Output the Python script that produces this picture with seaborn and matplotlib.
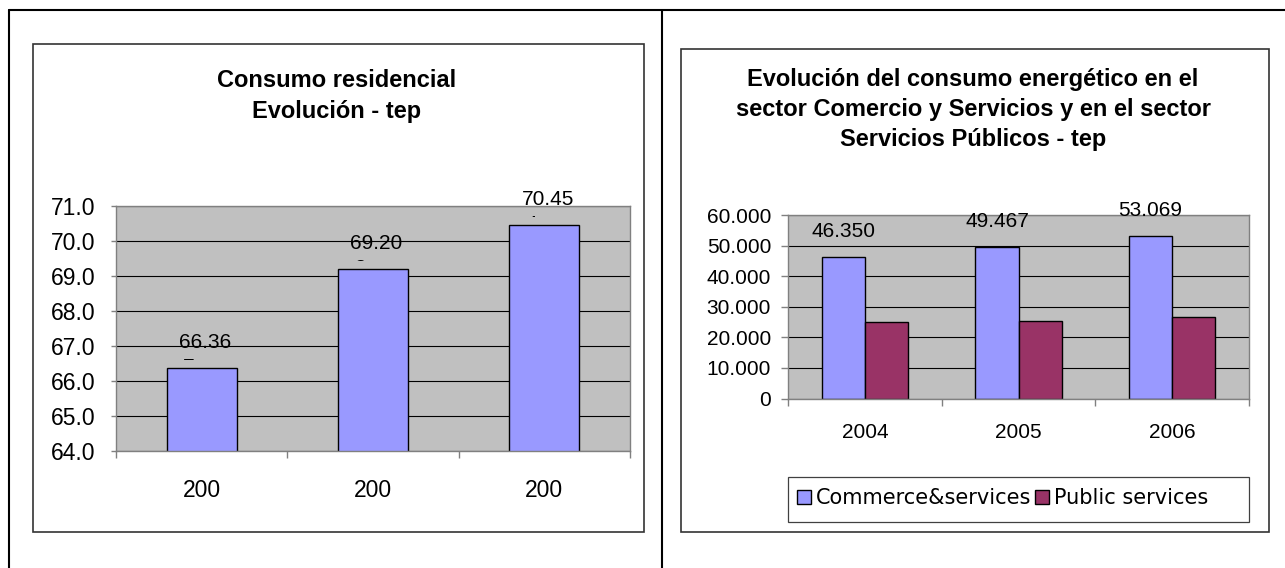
import matplotlib
matplotlib.use("Agg")
import matplotlib.pyplot as plt
import pandas as pd
import seaborn as sns
from matplotlib.lines import Line2D
from matplotlib.patches import Patch, Rectangle
from matplotlib.ticker import FuncFormatter
from matplotlib.transforms import Bbox, TransformedBbox, offset_copy

# data
res_years = ["2004", "2005", "2006"]
res_tick_labels = ["200", "200", "200"]   # the year labels are cut off in the original
res_tep = [66.367, 69.208, 70.454]
res_yticks = [64, 65, 66, 67, 68, 69, 70, 71]

cs_years = ["2004", "2005", "2006"]
commerce_tep = [46350, 49467, 53069]
public_tep = [24950, 25400, 26600]
cs_yticks = [0, 10000, 20000, 30000, 40000, 50000, 60000]
series_names = ["Commerce&services", "Public services"]

res_title = "Consumo residencial\nEvolución - tep"
cs_title = ("Evolución del consumo energético en el\n"
            "sector Comercio y Servicios y en el sector\n"
            "Servicios Públicos - tep")

BLUE = "#9999FF"
PLUM = "#993366"
PLOT_BG = "#C0C0C0"
AXIS_GRAY = "#808080"
BOX_GRAY = "#333333"
W, H = 1285, 568

sns.set_style("white")
plt.rcParams["font.family"] = ["Liberation Sans", "DejaVu Sans"]
plt.rcParams["text.color"] = "black"


def px_rect(left, top, right, bottom):
    # pixel box of the reference -> figure fraction rect
    return [left / W, 1 - bottom / H, (right - left) / W, (bottom - top) / H]


def fig_box(fig, left, top, right, bottom, color=BOX_GRAY, lw=1.2):
    x, y, w, h = px_rect(left, top, right, bottom)
    fig.add_artist(Rectangle((x, y), w, h, transform=fig.transFigure,
                             fill=False, edgecolor=color, linewidth=lw))


def shifted(ax, fig, dx=0, dy=0):
    return offset_copy(ax.transData, fig=fig, x=dx, y=dy, units="dots")


def style_axes(ax, yticks, fmt, size, ytick_len, ypad, xtick_len, xpad, labels):
    ax.set_facecolor(PLOT_BG)
    ax.set_ylim(yticks[0], yticks[-1])
    ax.set_yticks(yticks)
    ax.yaxis.set_major_formatter(FuncFormatter(fmt))
    ax.set_xticks(range(len(labels)), labels=labels)
    ax.set_xticks([i - 0.5 for i in range(len(labels) + 1)], minor=True)
    ax.set_xlim(-0.5, len(labels) - 0.5)
    ax.set_xlabel("")
    ax.set_ylabel("")
    ax.yaxis.grid(True, color="black", linewidth=0.8)
    ax.xaxis.grid(False)
    ax.set_axisbelow(True)
    for sp in ax.spines.values():
        sp.set_visible(True)
        sp.set_color(AXIS_GRAY)
        sp.set_linewidth(1.0)
    ax.tick_params(axis="y", left=True, length=ytick_len, width=1.0,
                   color=AXIS_GRAY, pad=ypad, labelsize=size, labelcolor="black")
    ax.tick_params(axis="x", which="major", bottom=True, length=0, pad=xpad,
                   labelsize=size, labelcolor="black")
    ax.tick_params(axis="x", which="minor", bottom=True, length=xtick_len,
                   width=1.0, color=AXIS_GRAY)


fig = plt.figure(figsize=(W / 100, H / 100), dpi=100)
fig.patch.set_facecolor("white")

# page frame lines
top_y = 1 - 10 / H
fig.add_artist(Line2D([9 / W, 1], [top_y, top_y], transform=fig.transFigure, color="black", lw=1.5))
fig.add_artist(Line2D([9 / W, 9 / W], [0, top_y], transform=fig.transFigure, color="black", lw=1.5))
fig.add_artist(Line2D([662 / W, 662 / W], [0, top_y], transform=fig.transFigure, color="black", lw=1.5))

# chart boxes
fig_box(fig, 33, 44, 644, 532)
fig_box(fig, 681, 49, 1269, 532)

# ---- left chart ----
ax1 = fig.add_axes(px_rect(116, 206, 630, 451))
res_df = pd.DataFrame({"year": res_years, "tep": res_tep})
sns.barplot(data=res_df, x="year", y="tep", color=BLUE, width=0.41, saturation=1,
            edgecolor="black", linewidth=1.0, errorbar=None, ax=ax1)
style_axes(ax1, res_yticks, lambda v, p: f"{v:.1f}", 16.5,
           3.8, 11.3, 5, 20.5, res_tick_labels)

for bar, v in zip(ax1.containers[0], res_tep):
    cx = bar.get_x() + bar.get_width() / 2
    top = bar.get_y() + bar.get_height()
    txt = f"{v:.3f}"
    ax1.text(cx, top, txt[:5], transform=shifted(ax1, fig, 3.5, 20),
             ha="center", va="baseline", fontsize=15, color="black")
    # wrapped second line, cut by the label box like in the original
    t2 = ax1.text(cx, top, txt[5:], transform=shifted(ax1, fig, -19, -5),
                  ha="left", va="baseline", fontsize=15, color="black", clip_on=True)
    t2.set_clip_path(None)
    t2.set_clip_box(TransformedBbox(Bbox([[cx - 0.5, top], [cx + 0.5, top + 50]]),
                                    shifted(ax1, fig, 0, 8)))

fig.text(337 / W, 1 - 96 / H, res_title, ha="center", va="center", color="black",
         fontsize=17, fontweight="bold", linespacing=1.4)

# ---- right chart ----
ax2 = fig.add_axes(px_rect(788, 215.3, 1249, 398.5))
cs_df = pd.DataFrame({
    "year": cs_years * 2,
    "series": [series_names[0]] * len(cs_years) + [series_names[1]] * len(cs_years),
    "tep": commerce_tep + public_tep,
})
sns.barplot(data=cs_df, x="year", y="tep", hue="series", hue_order=series_names,
            palette=[BLUE, PLUM], width=0.56, saturation=1, edgecolor="black",
            linewidth=1.0, errorbar=None, legend=False, ax=ax2)
style_axes(ax2, cs_yticks, lambda v, p: f"{int(v):,}".replace(",", "."), 15,
           5, 7.2, 4.8, 17.9, cs_years)

for bar, v in zip(ax2.containers[0], commerce_tep):
    cx = bar.get_x() + bar.get_width() / 2
    top = bar.get_y() + bar.get_height()
    ax2.text(cx, top, f"{v:,}".replace(",", "."), transform=shifted(ax2, fig, 0, 20),
             ha="center", va="baseline", fontsize=15, color="black")

fig.text(973 / W, 1 - 109.5 / H, cs_title, ha="center", va="center", color="black",
         multialignment="center", fontsize=17, fontweight="bold", linespacing=1.4)

# legend
fig_box(fig, 788, 477, 1249, 522, color="#404040", lw=0.9)
handles = [Patch(facecolor=c, edgecolor="black", linewidth=1.0) for c in [BLUE, PLUM]]
fig.legend(handles, series_names, loc="center left", bbox_to_anchor=(797 / W, 1 - 498 / H),
           ncol=2, frameon=False, handlelength=0.68, handleheight=0.68,
           handletextpad=0.22, columnspacing=0.2, borderpad=0, borderaxespad=0,
           labelcolor="black", prop={"family": ["DejaVu Sans"], "size": 15})

fig.savefig("out.png", dpi=100, facecolor="white")
